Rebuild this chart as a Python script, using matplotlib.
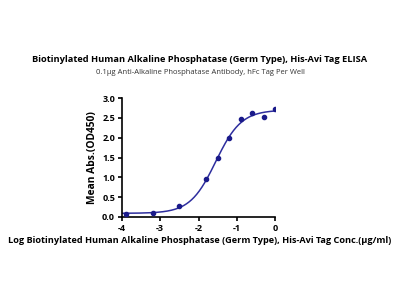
import numpy as np
import matplotlib
matplotlib.use("Agg")
import matplotlib.pyplot as plt

plt.rcParams['font.family'] = ['Open Sans', 'DejaVu Sans']

log_conc = [-3.9, -3.2, -2.5, -1.8, -1.5, -1.2, -0.9, -0.6, -0.3, 0.0]
od450 = [0.07, 0.11, 0.28, 0.95, 1.48, 2.00, 2.48, 2.62, 2.52, 2.73]
xticks = [-4, -3, -2, -1, 0]
yticks = [0.0, 0.5, 1.0, 1.5, 2.0, 2.5, 3.0]

# 4PL fit parameters (estimated)
bottom, top, ec50, hill = 0.09, 2.70, -1.55, 1.3

fig = plt.figure(figsize=(4, 3), dpi=100)
ax = fig.add_axes([0.305, 0.277, 0.3825, 0.396])

xc = np.linspace(-4, 0, 300)
yc = bottom + (top - bottom) / (1 + 10 ** (hill * (ec50 - xc)))
ax.plot(xc, yc, color='#2e2e9e', lw=1.1)
ax.scatter(log_conc, od450, s=9, color='#1a1a8a', zorder=3)

ax.set_xlim(-4, 0)
ax.set_ylim(0, 3.0)
ax.set_xticks(xticks)
ax.set_xticklabels([str(t) for t in xticks])
ax.set_yticks(yticks)
ax.set_yticklabels([f"{t:.1f}" for t in yticks])
for s in ['top', 'right']:
    ax.spines[s].set_visible(False)
for s in ['left', 'bottom']:
    ax.spines[s].set_linewidth(1.2)
ax.tick_params(width=1.2, length=3, labelsize=6.5, pad=2)
for lab in ax.get_xticklabels() + ax.get_yticklabels():
    lab.set_fontweight('bold')
ax.set_ylabel('Mean Abs.(OD450)', fontsize=7.4, fontweight='bold', labelpad=3)

fig.text(0.5, 0.803, 'Biotinylated Human Alkaline Phosphatase (Germ Type), His-Avi Tag ELISA',
         ha='center', va='center', fontsize=6.65, fontweight='bold')
fig.text(0.5, 0.76, '0.1μg Anti-Alkaline Phosphatase Antibody, hFc Tag Per Well',
         ha='center', va='center', fontsize=5.5, color='#333333')
fig.text(0.5, 0.197, 'Log Biotinylated Human Alkaline Phosphatase (Germ Type), His-Avi Tag Conc.(μg/ml)',
         ha='center', va='center', fontsize=6.6, fontweight='bold')

fig.savefig('out.png', dpi=100)
